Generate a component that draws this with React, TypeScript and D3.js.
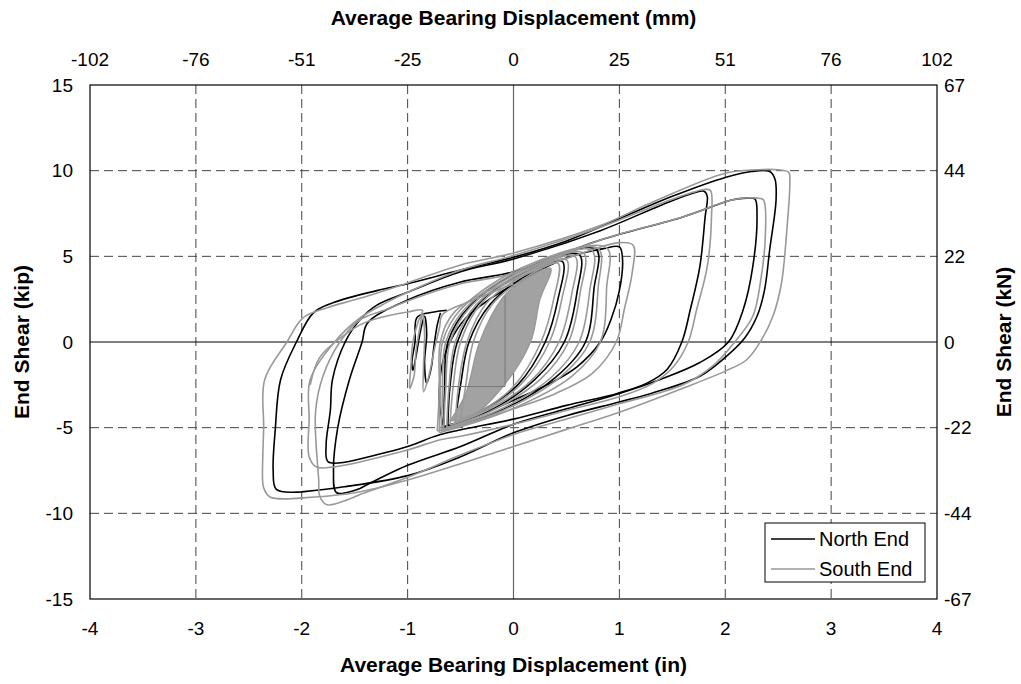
import React from "react";
import * as d3 from "d3";

// ---------- axis data ----------
const xTicks = [-4, -3, -2, -1, 0, 1, 2, 3, 4];
const mmLabels = ["-102", "-76", "-51", "-25", "0", "25", "51", "76", "102"];
const yTicks = [-15, -10, -5, 0, 5, 10, 15];
const kNLabels = ["-67", "-44", "-22", "0", "22", "44", "67"];

type P = [number, number];

// ---------- North End (black) loops, [displacement in, shear kip] ----------
const northLoopA: P[] = [
  [-2.0, -8.75], [-2.24, -8.6], [-2.27, -7.5], [-2.25, -5.1], [-2.2, -2.2], [-2.05, 0], [-1.89, 1.7],
  [-1.7, 2.3], [-1.29, 3.0], [-1.0, 3.4], [-0.5, 4.2], [0, 4.95], [0.5, 5.9], [1.0, 7.2], [1.5, 8.5],
  [2.0, 9.6], [2.25, 9.95], [2.42, 9.95], [2.47, 9.5], [2.48, 8.3], [2.42, 5.4], [2.37, 3.0], [2.3, 1.5],
  [2.18, 0.2], [2.0, -0.9], [1.76, -2.0], [1.3, -3.0], [1.0, -3.5], [0.5, -4.3], [0, -5.3], [-0.5, -6.7],
  [-1.0, -7.8], [-1.6, -8.45], [-2.0, -8.75],
];
const northLoopB: P[] = [
  [-1.5, -6.9], [-1.75, -7.0], [-1.77, -6.0], [-1.73, -4.0], [-1.71, -2.2], [-1.59, 0], [-1.45, 1.3],
  [-1.29, 2.15], [-1.0, 2.9], [-0.5, 4.1], [0, 4.85], [0.82, 6.5], [1.4, 8.0], [1.7, 8.7], [1.8, 8.8],
  [1.83, 8.5], [1.81, 7.3], [1.76, 4.4], [1.67, 1.9], [1.59, 0], [1.45, -1.6], [1.26, -2.4], [0.98, -3.0],
  [0.5, -3.7], [0, -4.5], [-0.69, -5.4], [-1.0, -6.1], [-1.5, -6.9],
];
const northLoopC: P[] = [
  [-1.45, -8.55], [-1.67, -8.8], [-1.7, -7.5], [-1.66, -5.0], [-1.55, -2.2], [-1.43, 0], [-1.38, 1.1],
  [-1.0, 2.45], [-0.5, 3.5], [0, 4.1], [0.82, 5.95], [1.6, 7.3], [2.07, 8.3], [2.2, 8.4], [2.28, 8.35],
  [2.3, 7.3], [2.26, 4.4], [2.17, 1.9], [2.03, 0], [1.76, -1.2], [1.38, -2.2], [1.0, -3.0], [0.5, -3.9],
  [0, -4.8], [-0.5, -6.1], [-1.0, -7.2], [-1.45, -8.55],
];
const northLoopD: P[] = [
  [-0.66, -4.95], [-0.7, -3.5], [-0.68, -1.5], [-0.6, 0], [-0.45, 1.4], [-0.2, 2.6], [0.1, 3.7],
  [0.5, 4.9], [0.85, 5.45], [1.0, 5.55], [1.03, 4.8], [1.0, 3.0], [0.92, 1.3], [0.82, 0], [0.6, -1.45],
  [0.35, -2.4], [0, -3.4], [-0.3, -4.2], [-0.66, -4.95],
];
const northSquiggle: P[] = [
  [-0.63, 1.85], [-0.75, 1.75], [-0.91, 1.45], [-0.93, 0], [-0.96, -1.2], [-0.95, -1.65], [-0.92, -0.8],
  [-0.88, 0.6], [-0.84, 1.5], [-0.82, 0.5], [-0.84, -1.2], [-0.82, -2.4], [-0.78, -1.6], [-0.75, -0.2],
  [-0.72, 1.0], [-0.69, 1.7],
];
const northCore0: P[] = [
  [-0.5, -4.3], [-0.35, -2.0], [-0.2, 0], [0, 2.0], [0.3, 4.1], [0.15, 2.0], [0.0, 0], [-0.2, -2.2], [-0.5, -4.3],
];
const northCore1: P[] = [
  [-0.55, -4.6], [-0.5, -2.5], [-0.42, 0], [-0.22, 2.2], [0.1, 3.8], [0.46, 4.7], [0.42, 2.5], [0.3, 0],
  [0.04, -2.5], [-0.3, -4.0], [-0.55, -4.6],
];
const northCore2: P[] = [
  [-0.62, -4.9], [-0.6, -2.6], [-0.53, 0], [-0.33, 2.2], [0.1, 4.05], [0.62, 5.1], [0.6, 2.9], [0.48, 0],
  [0.2, -2.2], [-0.22, -4.0], [-0.62, -4.9],
];
const northCore3: P[] = [
  [-0.66, -5.1], [-0.65, -2.7], [-0.62, 0], [-0.42, 2.05], [0.1, 4.25], [0.78, 5.4], [0.76, 3.1], [0.68, 0],
  [0.4, -2.05], [-0.12, -4.0], [-0.66, -5.1],
];

// ---------- South End (grey) loops ----------
const southLoopA: P[] = [
  [-1.99, -9.1], [-2.3, -9.05], [-2.36, -8.5], [-2.37, -8.05], [-2.36, -5.0], [-2.35, -2.2], [-2.14, 0],
  [-1.99, 1.4], [-1.76, 2.0], [-1.45, 2.55], [-1.0, 3.45], [-0.5, 4.5], [0, 5.2], [0.82, 6.8], [1.29, 8.1],
  [2.0, 9.85], [2.3, 10.05], [2.5, 10.05], [2.6, 9.9], [2.61, 9.3], [2.58, 6.4], [2.53, 3.4], [2.45, 1.5],
  [2.33, 0], [2.2, -1.05], [2.0, -1.7], [1.6, -2.7], [1.0, -4.1], [0.5, -5.1], [0, -6.1], [-0.5, -7.1],
  [-1.0, -8.05], [-1.5, -8.8], [-1.99, -9.1],
];
const southLoopB: P[] = [
  [-1.45, -7.0], [-1.86, -7.3], [-1.93, -6.7], [-1.93, -4.5], [-1.92, -2.2], [-1.69, 0], [-1.45, 1.4],
  [-1.2, 2.3], [-1.0, 2.9], [-0.5, 4.2], [0, 5.05], [0.82, 6.7], [1.4, 8.1], [1.7, 8.75], [1.8, 8.9],
  [1.86, 8.85], [1.87, 7.3], [1.83, 4.4], [1.73, 1.9], [1.65, 0], [1.51, -1.45], [1.32, -2.4], [1.0, -3.2],
  [0.5, -4.0], [0, -4.8], [-0.5, -5.5], [-0.69, -5.7], [-1.0, -6.3], [-1.45, -7.0],
];
const southLoopC: P[] = [
  [-1.45, -8.9], [-1.76, -9.5], [-1.83, -9.0], [-1.84, -8.05], [-1.87, -4.1], [-1.8, -2.0], [-1.64, 0],
  [-1.45, 1.3], [-1.2, 1.9], [-1.0, 2.4], [-0.5, 3.4], [0, 4.0], [0.82, 5.95], [1.6, 7.3], [2.07, 8.3],
  [2.3, 8.4], [2.36, 8.3], [2.38, 6.4], [2.33, 3.4], [2.26, 1.5], [2.09, 0], [1.9, -1.3], [1.6, -2.5],
  [1.0, -3.6], [0.5, -4.5], [0, -5.4], [-0.5, -6.6], [-1.0, -7.9], [-1.45, -8.9],
];
const southLoopD: P[] = [
  [-0.72, -5.2], [-0.7, -2.8], [-0.69, 0], [-0.55, 1.8], [0.1, 3.9], [0.7, 5.3], [1.0, 5.8], [1.13, 5.65],
  [1.12, 4.0], [1.05, 2.0], [0.97, 0], [0.75, -1.8], [0.4, -3.0], [0, -3.9], [-0.4, -4.7], [-0.72, -5.2],
];
const southSquiggle: P[] = [
  [-1.92, -2.5], [-1.83, -0.9], [-1.6, 0.4], [-1.45, 1.0], [-1.33, 1.3], [-1.0, 1.75], [-0.86, 1.85],
  [-0.9, 1.2], [-0.95, 0], [-0.97, -1.5], [-0.98, -2.7], [-0.94, -2.0], [-0.92, -0.5], [-0.88, 1.0],
  [-0.86, 1.7], [-0.84, 0.5], [-0.85, -1.5], [-0.85, -2.9], [-0.8, -2.0], [-0.75, -0.5], [-0.7, 0.8],
  [-0.67, 1.6], [-0.4, 2.4], [0, 3.4],
];
const southCoreDense: P[] = [
  [-0.6, -4.6], [-0.45, -3.0], [-0.32, 0], [-0.1, 2.6], [0.06, 3.45], [0.35, 4.3], [0.25, 2.5], [0.16, 0],
  [-0.1, -2.6], [-0.41, -4.4], [-0.6, -4.6],
];
const southCore1: P[] = [
  [-0.5, -4.5], [-0.45, -2.5], [-0.38, 0], [-0.2, 2.2], [0.1, 3.7], [0.42, 4.6], [0.38, 2.5], [0.26, 0],
  [0.0, -2.6], [-0.3, -4.0], [-0.5, -4.5],
];
const southCore2: P[] = [
  [-0.55, -4.7], [-0.52, -2.6], [-0.44, 0], [-0.25, 2.3], [0.1, 3.9], [0.5, 4.8], [0.46, 2.6], [0.34, 0],
  [0.08, -2.4], [-0.3, -4.1], [-0.55, -4.7],
];
const southCore3: P[] = [
  [-0.6, -4.85], [-0.57, -2.6], [-0.5, 0], [-0.3, 2.3], [0.1, 4.0], [0.58, 5.0], [0.55, 2.8], [0.43, 0],
  [0.16, -2.3], [-0.25, -4.0], [-0.6, -4.85],
];
const southCore4: P[] = [
  [-0.63, -5.0], [-0.61, -2.7], [-0.55, 0], [-0.35, 2.2], [0.1, 4.1], [0.66, 5.2], [0.63, 2.9], [0.52, 0],
  [0.25, -2.2], [-0.2, -4.0], [-0.63, -5.0],
];
const southCore5: P[] = [
  [-0.66, -5.1], [-0.64, -2.7], [-0.6, 0], [-0.4, 2.1], [0.1, 4.2], [0.74, 5.35], [0.72, 3.0], [0.62, 0],
  [0.35, -2.1], [-0.15, -4.0], [-0.66, -5.1],
];
const southCore6: P[] = [
  [-0.68, -5.2], [-0.67, -2.8], [-0.64, 0], [-0.45, 2.0], [0.1, 4.3], [0.8, 5.45], [0.8, 3.2], [0.72, 0],
  [0.45, -2.0], [-0.1, -4.0], [-0.68, -5.2],
];
const southCore7: P[] = [
  [-0.7, -5.3], [-0.69, -2.8], [-0.67, 0], [-0.5, 1.9], [0.1, 4.4], [0.88, 5.5], [0.88, 3.2], [0.82, 0],
  [0.55, -2.0], [-0.05, -4.0], [-0.7, -5.3],
];
const southJump: P[] = [[-0.08, 2.7], [-0.08, -2.6], [-0.69, -2.6]];

const northLoops = [northLoopA, northLoopB, northLoopC, northLoopD, northSquiggle, northCore0, northCore1, northCore2, northCore3];
const southLoops = [southLoopA, southLoopB, southLoopC, southLoopD, southSquiggle, southCore1, southCore2, southCore3, southCore4, southCore5, southCore6, southCore7];

const W = 1021;
const H = 684;
const FONT = "'Liberation Sans', Arial, sans-serif";

export default function App() {
  const x = d3.scaleLinear().domain([-4, 4]).range([90, 937]);
  const y = d3.scaleLinear().domain([-15, 15]).range([599, 85]);
  const line = d3
    .line<P>()
    .x((d) => x(d[0]))
    .y((d) => y(d[1]))
    .curve(d3.curveCatmullRom.alpha(0.5));
  const straight = d3
    .line<P>()
    .x((d) => x(d[0]))
    .y((d) => y(d[1]));

  const [x0, x1] = x.range();
  const [y0, y1] = [y(15), y(-15)];
  const tickFs = 19;
  const titleFs = 21;

  return (
    <svg
      width={W}
      height={H}
      style={{ position: "absolute", left: 0, top: 0, background: "#fff" }}
      fontFamily={FONT}
    >
      <defs>
        <clipPath id="plot">
          <rect x={x0} y={y0} width={x1 - x0} height={y1 - y0} />
        </clipPath>
      </defs>
      <rect x={0} y={0} width={W} height={H} fill="#fff" />
      {/* grid */}
      {xTicks
        .filter((t) => t !== 0 && t !== -4 && t !== 4)
        .map((t) => (
          <line key={"gx" + t} x1={x(t)} x2={x(t)} y1={y0} y2={y1} stroke="#444" strokeWidth={1} strokeDasharray="9,5" />
        ))}
      {yTicks
        .filter((t) => t !== 0 && t !== -15 && t !== 15)
        .map((t) => (
          <line key={"gy" + t} x1={x0} x2={x1} y1={y(t)} y2={y(t)} stroke="#444" strokeWidth={1} strokeDasharray="9,5" />
        ))}
      <line x1={x(0)} x2={x(0)} y1={y0} y2={y1} stroke="#666" strokeWidth={1.2} />
      <line x1={x0} x2={x1} y1={y(0)} y2={y(0)} stroke="#000" strokeWidth={1.2} />

      {/* data */}
      <g clipPath="url(#plot)" fill="none" strokeLinejoin="round">
        {northLoops.map((d, i) => (
          <path key={"n" + i} d={line(d) || ""} stroke="#000" strokeWidth={1.6} />
        ))}
        <path d={line(southCoreDense) || ""} fill="#a2a2a2" stroke="#999" strokeWidth={1.4} />
        {southLoops.map((d, i) => (
          <path key={"s" + i} d={line(d) || ""} stroke="#999" strokeWidth={1.6} />
        ))}
        <path d={straight(southJump) || ""} stroke="#777" strokeWidth={1} />
      </g>

      {/* frame */}
      <rect x={x0} y={y0} width={x1 - x0} height={y1 - y0} fill="none" stroke="#000" strokeWidth={1.2} />

      {/* bottom axis */}
      {xTicks.map((t) => (
        <text key={"bx" + t} x={x(t)} y={635} textAnchor="middle" fontSize={tickFs}>
          {t}
        </text>
      ))}
      <text x={(x0 + x1) / 2} y={672} textAnchor="middle" fontSize={titleFs} fontWeight="bold">
        Average Bearing Displacement (in)
      </text>
      {/* top axis */}
      {xTicks.map((t, i) => (
        <text key={"tx" + t} x={x(t)} y={66} textAnchor="middle" fontSize={tickFs}>
          {mmLabels[i]}
        </text>
      ))}
      <text x={(x0 + x1) / 2} y={25} textAnchor="middle" fontSize={titleFs} fontWeight="bold">
        Average Bearing Displacement (mm)
      </text>
      {/* left axis */}
      {yTicks.map((t) => (
        <text key={"ly" + t} x={73} y={y(t)} dy="0.35em" textAnchor="end" fontSize={tickFs}>
          {t}
        </text>
      ))}
      <text transform={`translate(29,${(y0 + y1) / 2}) rotate(-90)`} textAnchor="middle" fontSize={titleFs} fontWeight="bold">
        End Shear (kip)
      </text>
      {/* right axis */}
      {yTicks.map((t, i) => (
        <text key={"ry" + t} x={944} y={y(t)} dy="0.35em" textAnchor="start" fontSize={tickFs}>
          {kNLabels[i]}
        </text>
      ))}
      <text transform={`translate(1011,${(y0 + y1) / 2}) rotate(-90)`} textAnchor="middle" fontSize={titleFs} fontWeight="bold">
        End Shear (kN)
      </text>

      {/* legend */}
      <g>
        <rect x={765} y={523} width={160} height={59} fill="#fff" stroke="#000" strokeWidth={1} />
        <line x1={771} x2={815} y1={539} y2={539} stroke="#000" strokeWidth={1.6} />
        <text x={819} y={546} fontSize={20}>North End</text>
        <line x1={771} x2={815} y1={569} y2={569} stroke="#999" strokeWidth={1.6} />
        <text x={819} y={576} fontSize={20}>South End</text>
      </g>
    </svg>
  );
}
